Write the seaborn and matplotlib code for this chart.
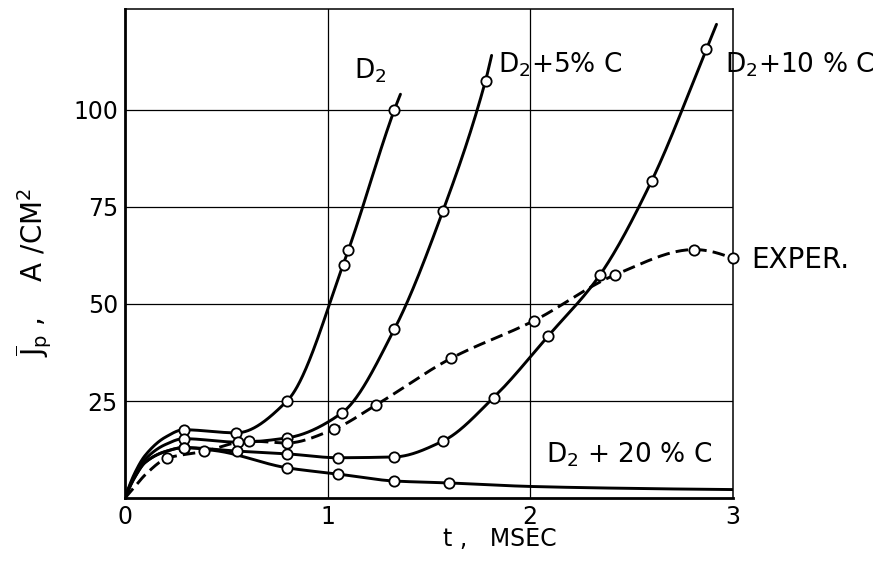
import numpy as np
import pandas as pd
import matplotlib
matplotlib.use("Agg")
import matplotlib.pyplot as plt
import seaborn as sns

# ---- measured points (t in ms, J in A/cm^2) ----
# circles
d2_t = [0.29, 0.55, 0.80, 1.08, 1.10, 1.33]
d2_j = [17.6, 16.8, 25.0, 60.0, 64.0, 100.0]
d5_t = [0.29, 0.56, 0.80, 1.07, 1.33, 1.57, 1.78]
d5_j = [15.3, 14.4, 15.5, 21.9, 43.5, 74.0, 107.5]
d10_t = [0.29, 0.555, 0.80, 1.05, 1.33, 1.57, 1.82, 2.09, 2.345, 2.60, 2.87]
d10_j = [13.0, 12.1, 11.4, 10.4, 10.6, 14.7, 25.9, 41.8, 57.5, 81.7, 115.6]
d20_t = [0.29, 0.80, 1.05, 1.33, 1.60]
d20_j = [13.0, 7.8, 6.2, 4.4, 3.9]
exp_t = [0.21, 0.39, 0.61, 0.80, 1.03, 1.24, 1.61, 2.02, 2.42, 2.81, 3.00]
exp_j = [10.3, 12.0, 14.7, 14.2, 17.7, 24.0, 36.0, 45.7, 57.5, 64.0, 61.7]

# points along each drawn curve
d2_curve_t = [0.0, 0.05, 0.10, 0.20, 0.29, 0.55, 0.80, 1.09, 1.33, 1.36]
d2_curve_j = [0.0, 6.6, 11.0, 15.7, 17.6, 16.8, 25.0, 62.0, 100.0, 104.0]
d5_curve_t = [0.0, 0.05, 0.10, 0.20, 0.29, 0.56, 0.80, 1.07, 1.33, 1.57,
              1.78, 1.81]
d5_curve_j = [0.0, 6.0, 10.0, 13.8, 15.3, 14.4, 15.5, 21.9, 43.5, 74.0,
              107.5, 114.0]
d10_curve_t = [0.0, 0.05, 0.10, 0.20, 0.29, 0.555, 0.80, 1.05, 1.33, 1.57,
               1.82, 2.09, 2.345, 2.60, 2.87, 2.92]
d10_curve_j = [0.0, 5.5, 9.2, 12.0, 13.0, 12.1, 11.4, 10.4, 10.6, 14.7,
               25.9, 41.8, 57.5, 81.7, 115.6, 122.0]
d20_curve_t = [0.0, 0.05, 0.10, 0.20, 0.29, 0.45, 0.80, 1.05, 1.33, 1.60,
               2.0, 2.5, 3.0]
d20_curve_j = [0.0, 5.5, 9.2, 12.0, 13.0, 12.2, 7.8, 6.2, 4.4, 3.9,
               3.0, 2.5, 2.2]
exp_curve_t = [0.0, 0.05, 0.10, 0.21, 0.39, 0.61, 0.80, 1.03, 1.24, 1.61,
               2.02, 2.42, 2.81, 3.00]
exp_curve_j = [0.0, 3.0, 6.0, 10.3, 12.0, 14.7, 14.2, 17.7, 24.0, 36.0,
               45.7, 57.5, 64.0, 61.7]

x_ticks = [0, 1, 2, 3]
y_ticks = [25, 50, 75, 100]


def pchip(x, y, xs):
    """Monotone piecewise cubic Hermite curve through (x, y)."""
    x = np.asarray(x, float)
    y = np.asarray(y, float)
    h = np.diff(x)
    d = np.diff(y) / h
    n = len(x)
    m = np.zeros(n)
    for k in range(1, n - 1):
        if d[k - 1] * d[k] <= 0:
            m[k] = 0.0
        else:
            w1 = 2 * h[k] + h[k - 1]
            w2 = h[k] + 2 * h[k - 1]
            m[k] = (w1 + w2) / (w1 / d[k - 1] + w2 / d[k])

    def end_slope(h0, h1, d0, d1):
        s = ((2 * h0 + h1) * d0 - h0 * d1) / (h0 + h1)
        if np.sign(s) != np.sign(d0):
            s = 0.0
        elif np.sign(d0) != np.sign(d1) and abs(s) > abs(3 * d0):
            s = 3 * d0
        return s

    m[0] = end_slope(h[0], h[1], d[0], d[1])
    m[-1] = end_slope(h[-1], h[-2], d[-1], d[-2])
    idx = np.clip(np.searchsorted(x, xs) - 1, 0, n - 2)
    t = (xs - x[idx]) / h[idx]
    h00 = 2 * t**3 - 3 * t**2 + 1
    h10 = t**3 - 2 * t**2 + t
    h01 = -2 * t**3 + 3 * t**2
    h11 = t**3 - t**2
    return (h00 * y[idx] + h10 * h[idx] * m[idx]
            + h01 * y[idx + 1] + h11 * h[idx] * m[idx + 1])


def smooth(ct, cj):
    xs = np.linspace(ct[0], ct[-1], 500)
    return pd.DataFrame({"t": xs, "J": pchip(ct, cj, xs)})


sns.set_theme(style="white")
plt.rcParams["font.family"] = ["DejaVu Sans"]
plt.rcParams["mathtext.fontset"] = "dejavusans"
plt.rcParams["mathtext.default"] = "regular"

fig = plt.figure(figsize=(8.86, 5.86), dpi=100)
ax = fig.add_axes([0.141, 0.150, 0.686, 0.835])

series = [
    (d2_t, d2_j, d2_curve_t, d2_curve_j, "-"),
    (d5_t, d5_j, d5_curve_t, d5_curve_j, "-"),
    (d10_t, d10_j, d10_curve_t, d10_curve_j, "-"),
    (d20_t, d20_j, d20_curve_t, d20_curve_j, "-"),
    (exp_t, exp_j, exp_curve_t, exp_curve_j, (0, (4.3, 2.1))),
]

for mt, mj, ct, cj, ls in series:
    sns.lineplot(data=smooth(ct, cj), x="t", y="J", ax=ax, color="black",
                 linewidth=2.1, linestyle=ls, sort=False, estimator=None,
                 zorder=3)

for mt, mj, ct, cj, ls in series:
    sns.scatterplot(x=mt, y=mj, ax=ax, s=55, facecolor="white",
                    edgecolor="black", linewidth=1.3, zorder=5, clip_on=False)

ax.set_xlim(0, 3)
ax.set_ylim(0, 126)
ax.set_xticks(x_ticks)
ax.set_yticks(y_ticks)
ax.set_xticklabels([str(v) for v in x_ticks])
ax.set_yticklabels([str(v) for v in y_ticks])
ax.tick_params(length=0, labelsize=17, colors="black")
ax.tick_params(axis="x", pad=5)
ax.tick_params(axis="y", pad=5)
ax.set_xlabel("")
ax.set_ylabel("")

for v in x_ticks[1:-1]:
    ax.axvline(v, color="black", lw=0.9, zorder=1)
for v in y_ticks:
    ax.axhline(v, color="black", lw=0.9, zorder=1)

for side in ("left", "bottom"):
    ax.spines[side].set_linewidth(2.0)
for side in ("top", "right"):
    ax.spines[side].set_linewidth(1.1)
for sp in ax.spines.values():
    sp.set_color("black")

lab = dict(fontsize=19, color="black", ha="left", va="center", clip_on=False)
ax.text(1.13, 110, "D$_2$", **lab)
ax.text(1.84, 111.5, "D$_2$+5% C", **lab)
ax.text(2.96, 111.5, "D$_2$+10 % C", **lab)
ax.text(3.09, 61.3, "EXPER.", fontsize=20, color="black", ha="left",
        va="center", clip_on=False)
ax.text(2.08, 11.1, "D$_2$ + 20 % C", **lab)

fig.text(500 / 886, 1 - 539 / 586, "t ,   MSEC", fontsize=17,
         ha="center", va="center", color="black")
fig.text(34 / 886, 1 - 272 / 586, r"$\overline{J}_p$ ,    A /CM$^2$",
         fontsize=20, rotation=90, ha="center", va="center", color="black")

fig.savefig("out.png", dpi=100, facecolor="white")
